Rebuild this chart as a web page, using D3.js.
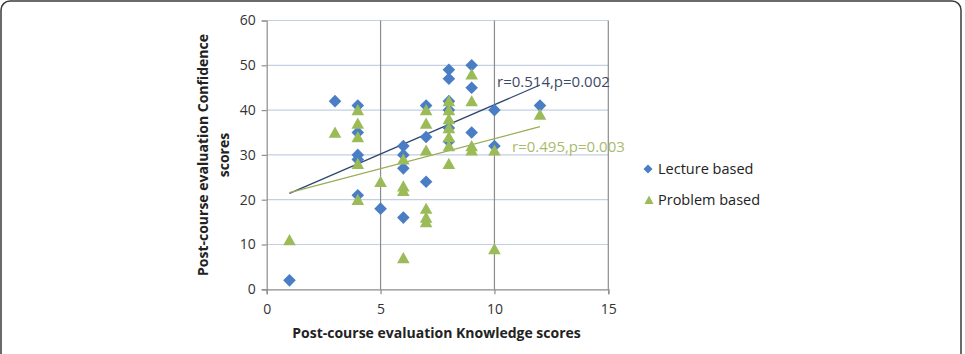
<!DOCTYPE html>
<html><head><meta charset="utf-8">
<script src="https://cdn.jsdelivr.net/npm/d3@7"></script>
<style>body{margin:0;background:#fff}svg{display:block}text{font-family:"Open Sans",sans-serif}</style>
</head><body><svg id="c" width="965" height="354"></svg>
<script>
const lectureX = [1,3,4,4,4,4,4,5,6,6,6,6,7,7,7,8,8,8,8,8,8,9,9,9,10,10,12];
const lectureY = [2,42,41,35,30,29,21,18,32,30,27,16,41,34,24,49,47,42,40,36,33,50,45,35,40,32,41];
const problemX = [1,3,4,4,4,4,4,5,6,6,6,6,7,7,7,7,7,7,8,8,8,8,8,8,8,9,9,9,9,10,10,12];
const problemY = [11,35,40,37,34,28,20,24,29,23,22,7,40,37,31,18,16,15,42,40,38,36,34,32,28,48,42,32,31,31,9,39];
const lectureTrend = [[1,21.4],[12,45.6]];
const problemTrend = [[1,21.6],[12,36.3]];
const xTicks = [0,5,10,15];
const yTicks = [0,10,20,30,40,50,60];
const seriesNames = ["Lecture based","Problem based"];
const rLabels = ["r=0.514,p=0.002","r=0.495,p=0.003"];

const svg = d3.select("#c");
const x = d3.scaleLinear().domain([0,15]).range([266.7,608.3]);
const y = d3.scaleLinear().domain([0,60]).range([289.3,20.5]);
const blue="#4a7ec4", green="#9bbb59";

// frame
svg.append("rect").attr("x",1).attr("y",1).attr("width",960).attr("height",380).attr("rx",9)
  .attr("fill","none").attr("stroke","#3a3a3a").attr("stroke-width",1.5);

// grid
svg.append("g").selectAll("line").data(yTicks.filter(d=>d>0)).join("line")
  .attr("x1",x(0)).attr("x2",x(15)).attr("y1",d=>y(d)).attr("y2",d=>y(d))
  .attr("stroke","#c3cfe2").attr("stroke-width",1.2);
svg.append("g").selectAll("line").data(xTicks.filter(d=>d>0)).join("line")
  .attr("x1",d=>x(d)).attr("x2",d=>x(d)).attr("y1",y(0)).attr("y2",y(60))
  .attr("stroke","#8c8c8c").attr("stroke-width",1.2);

// axes
const gx = svg.append("g").attr("transform",`translate(0,${y(0)})`)
  .call(d3.axisBottom(x).tickValues(xTicks).tickSize(5).tickPadding(10));
const gy = svg.append("g").attr("transform",`translate(${x(0)},0)`)
  .call(d3.axisLeft(y).tickValues(yTicks).tickSize(5).tickPadding(6));
[gx,gy].forEach(g=>{
  g.select(".domain").attr("stroke","#8c8c8c").attr("stroke-width",1.2);
  g.selectAll(".tick line").attr("stroke","#8c8c8c").attr("stroke-width",1.2);
  g.selectAll(".tick text").attr("font-family","'Open Sans',sans-serif").attr("font-size",14).attr("fill","#333");
});

// trend lines
const line = d3.line().x(d=>x(d[0])).y(d=>y(d[1]));
svg.append("path").attr("d",line(lectureTrend)).attr("stroke","#2f4770").attr("stroke-width",1.3).attr("fill","none");
svg.append("path").attr("d",line(problemTrend)).attr("stroke","#98ad55").attr("stroke-width",1.3).attr("fill","none");

// markers
const diamond = "M0,-6.3L6.3,0L0,6.3L-6.3,0Z";
const tri = "M0,-6L6.3,5.2L-6.3,5.2Z";
svg.append("g").selectAll("path").data(lectureX.map((v,i)=>[v,lectureY[i]])).join("path")
  .attr("d",diamond).attr("transform",d=>`translate(${x(d[0])},${y(d[1])})`).attr("fill",blue);
svg.append("g").selectAll("path").data(problemX.map((v,i)=>[v,problemY[i]])).join("path")
  .attr("d",tri).attr("transform",d=>`translate(${x(d[0])},${y(d[1])})`).attr("fill",green);

// r labels
svg.append("text").attr("x",497).attr("y",87).attr("font-size",15).attr("fill","#3c4a66").text(rLabels[0]);
svg.append("text").attr("x",512).attr("y",152).attr("font-size",15).attr("fill","#a9bb6c").text(rLabels[1]);

// legend
svg.append("path").attr("d","M0,-4.5L4.5,0L0,4.5L-4.5,0Z").attr("transform","translate(648,169)").attr("fill",blue);
svg.append("path").attr("d","M0,-4.5L4.5,4L-4.5,4Z").attr("transform","translate(649,200)").attr("fill",green);
svg.append("text").attr("x",658).attr("y",174).attr("font-size",14.5).attr("fill","#222").text(seriesNames[0]);
svg.append("text").attr("x",658).attr("y",205).attr("font-size",14.5).attr("fill","#222").text(seriesNames[1]);

// axis titles
svg.append("text").attr("x",(x(0)+x(15))/2-1).attr("y",338).attr("text-anchor","middle")
  .attr("font-size",14).attr("font-weight","bold").attr("fill","#222").text("Post-course evaluation Knowledge scores");
const yt = svg.append("text").attr("transform","translate(208,155) rotate(-90)").attr("text-anchor","middle")
  .attr("font-size",14).attr("font-weight","bold").attr("fill","#222");
yt.append("tspan").attr("x",0).attr("y",0).text("Post-course evaluation  Confidence");
yt.append("tspan").attr("x",0).attr("y",21).text("scores");
</script></body></html>
